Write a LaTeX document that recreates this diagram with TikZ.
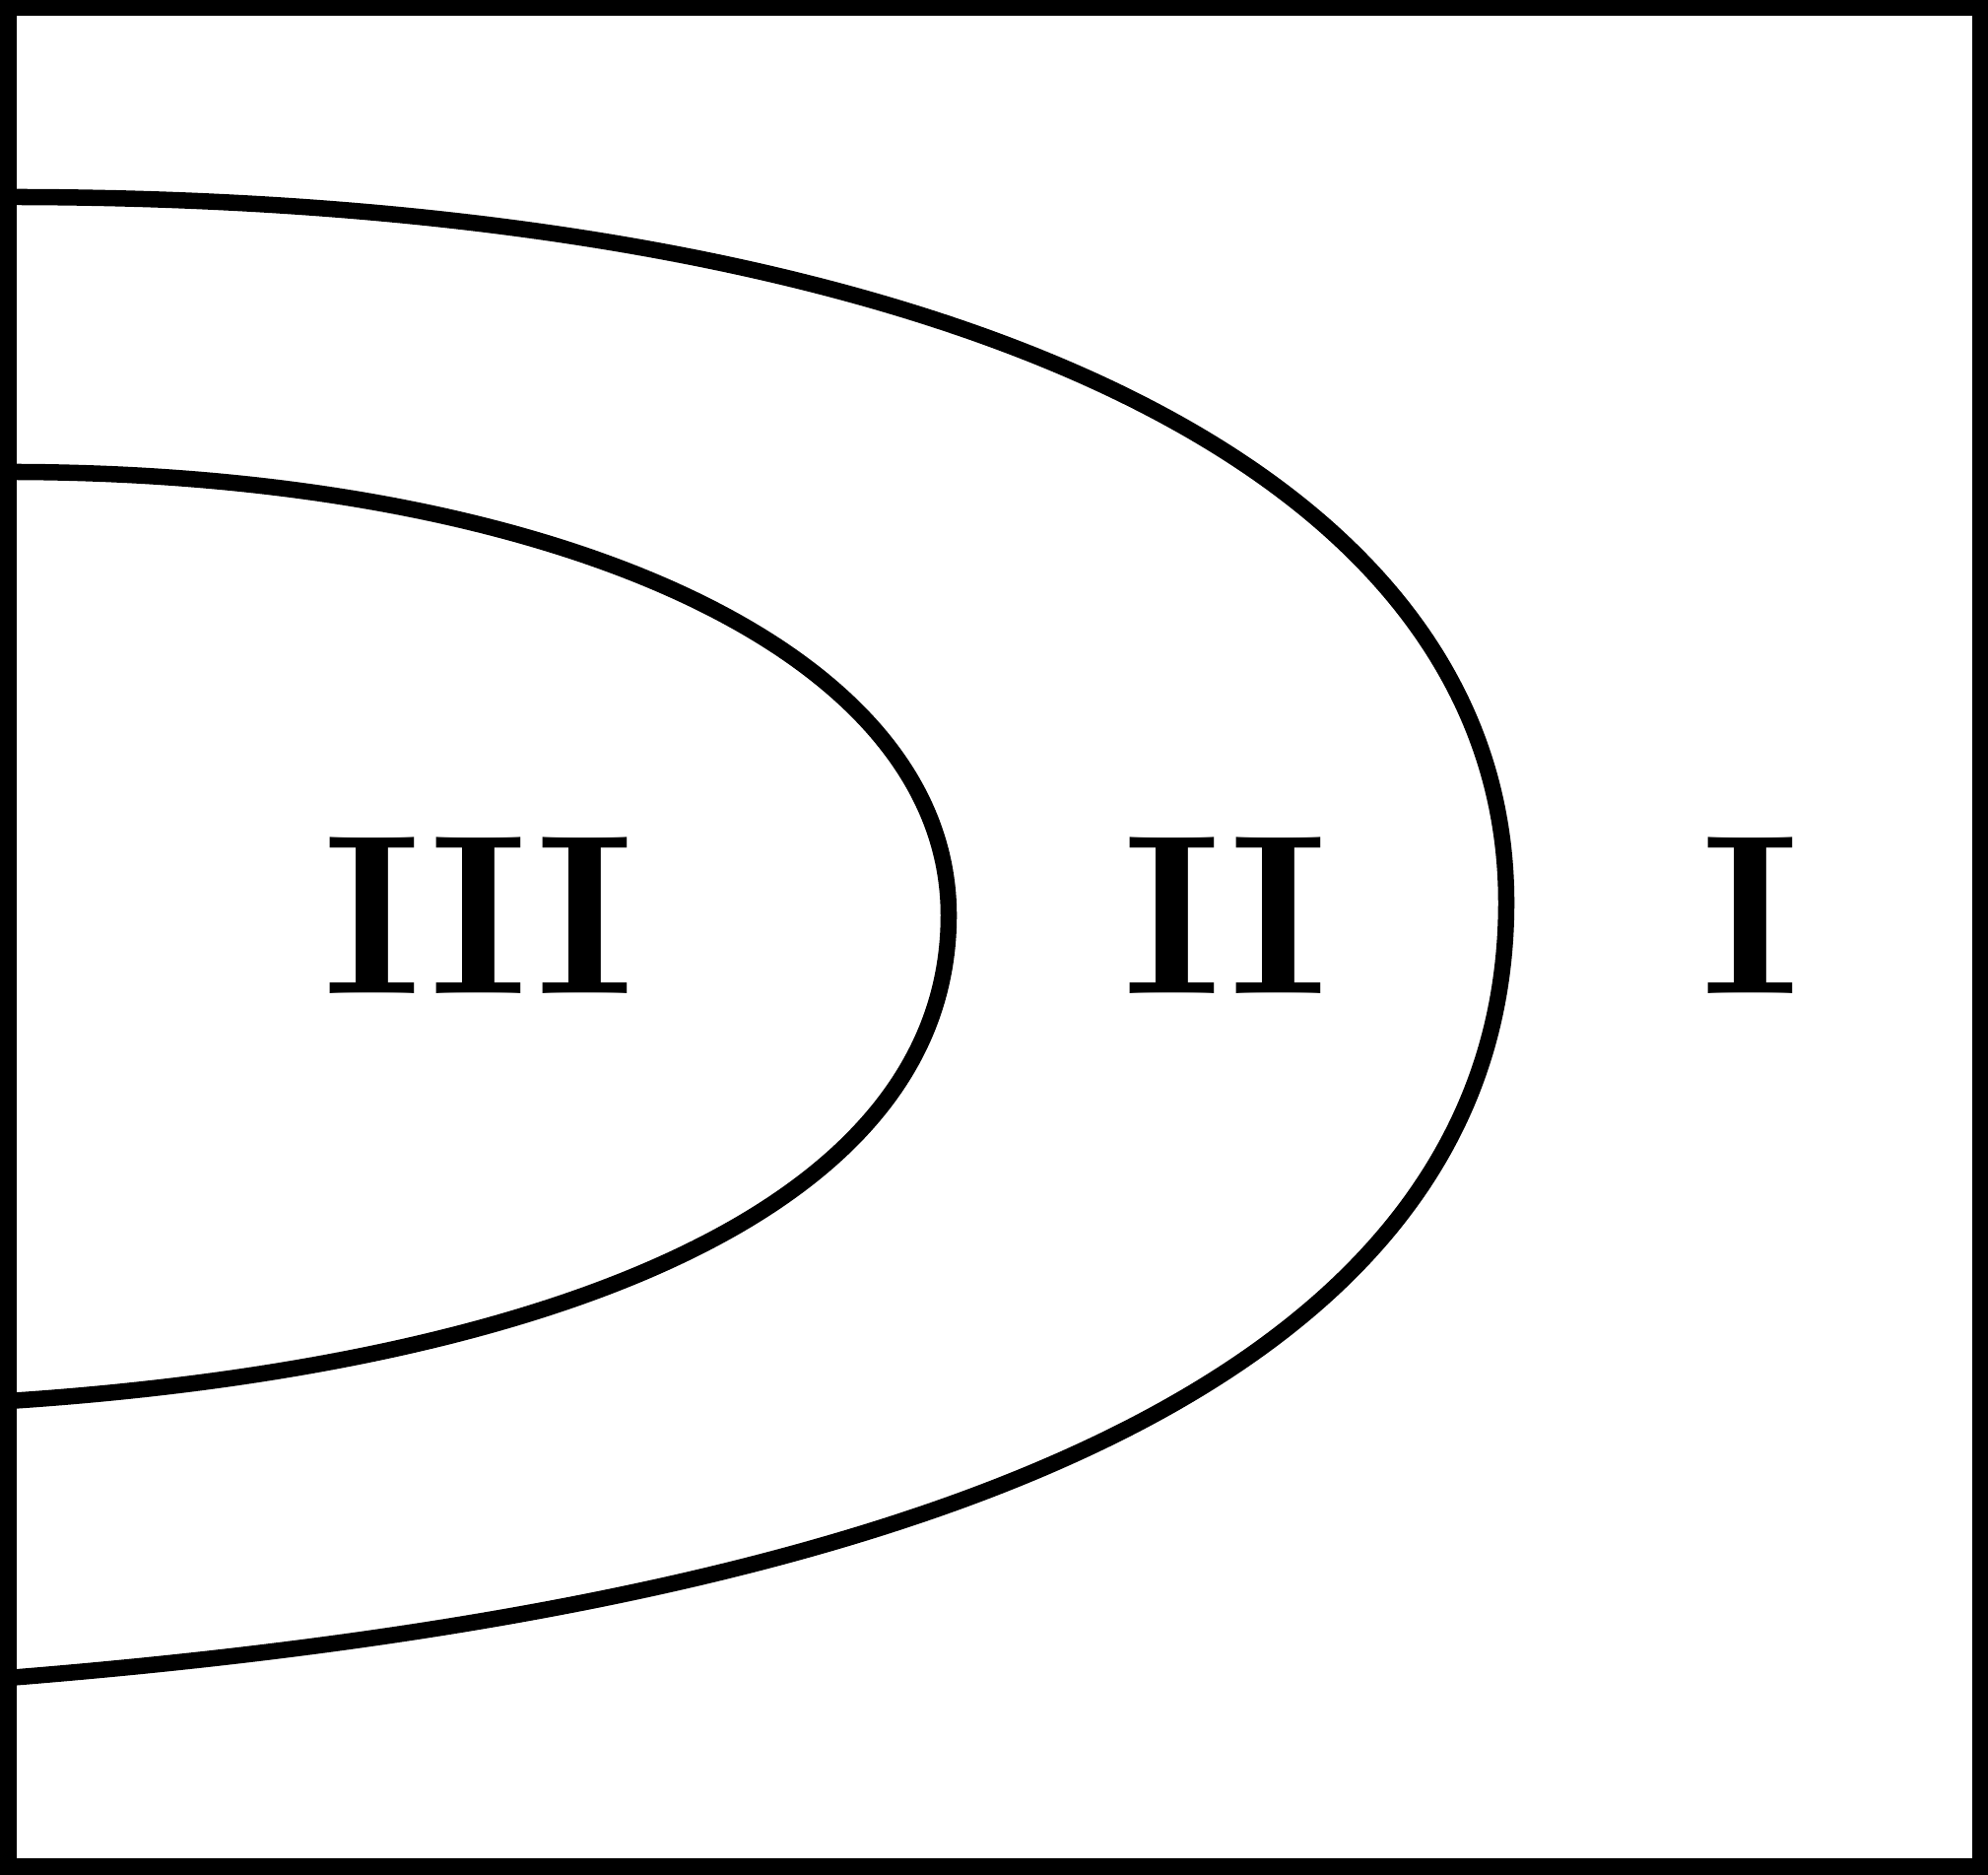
\documentclass[tikz,border=0pt]{standalone}
\begin{document}
\begin{tikzpicture}[
    frame/.style={
        line width=4.7pt,
        draw=black
    },
    boundary/.style={
        line width=4.7pt,
        draw=black
    },
    region/.style={
        font=\bfseries,
        scale=6.58,
        inner sep=0pt
    }
]
    \useasboundingbox (0,0) rectangle (20.18,19.03);
    \draw[frame] (0.0825,0.0825) rectangle (20.0975,18.9475);

    % outer boundary
    \coordinate (outerTop) at (0.08,17.03);
    \coordinate (outerTip) at (15.29,9.87);
    \coordinate (outerBot) at (0.08,2.00);
    \draw[boundary] (outerTop) .. controls (9.0,17.03) and (15.29,14.53) .. (outerTip)
        .. controls (15.29,4.53) and (8.08,2.64) .. (outerBot);

    % inner boundary
    \coordinate (innerTop) at (0.08,14.24);
    \coordinate (innerTip) at (9.63,9.74);
    \coordinate (innerBot) at (0.08,4.81);
    \draw[boundary] (innerTop) .. controls (5.5,14.24) and (9.63,12.48) .. (innerTip)
        .. controls (9.63,6.53) and (5.0,5.13) .. (innerBot);

    \node[region] (regIII) at (4.86,9.74) {III};
    \node[region] (regII) at (12.44,9.74) {II};
    \node[region] (regI) at (17.77,9.74) {I};
\end{tikzpicture}
\end{document}
